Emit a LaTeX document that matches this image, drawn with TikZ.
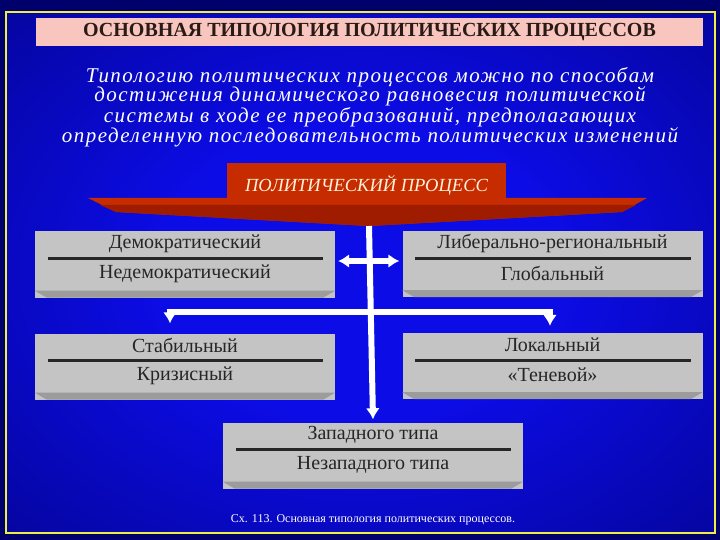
\documentclass[tikz,border=0pt]{standalone}
\usepackage{fontspec}
\setmainfont{Liberation Serif}
\usetikzlibrary{arrows.meta,calc,positioning}

\definecolor{navy}{HTML}{00006C}
\definecolor{midblue}{HTML}{0C0CE6}
\definecolor{frameyellow}{HTML}{EEEE44}
\definecolor{titlepink}{HTML}{F8C6BE}
\definecolor{titleink}{HTML}{2A1A16}
\definecolor{bannerred}{HTML}{C62C00}
\definecolor{bannerdark}{HTML}{A01C00}
\definecolor{boxgray}{HTML}{C4C4C4}
\definecolor{bevelgray}{HTML}{9C9C9C}
\definecolor{inkgray}{HTML}{262626}
\definecolor{cream}{HTML}{FFF2D8}

\pgfdeclareradialshading{slideshade}{\pgfpoint{0bp}{0bp}}%
  {color(0bp)=(midblue); color(14bp)=(midblue); color(52bp)=(navy); color(100bp)=(navy)}

\begin{document}
\begin{tikzpicture}
	[x=1pt,y=-1pt,
	 titlebar/.style={fill=titlepink,minimum width=667pt,minimum height=28pt,inner sep=0pt,
	   text=titleink,font=\fontsize{20}{22}\selectfont\bfseries},
	 intro/.style={text=white,align=center,inner sep=0pt,
	   font=\fontsize{21}{19.5}\selectfont\itshape\addfontfeature{LetterSpace=7}},
	 banner/.style={fill=bannerred,minimum width=279pt,minimum height=36pt,inner sep=0pt},
	 bannertext/.style={text=cream,inner sep=0pt,font=\fontsize{18.5}{20}\selectfont\itshape},
	 typebox/.style={fill=boxgray,minimum width=300pt,minimum height=66pt,inner sep=0pt},
	 typetext/.style={text=inkgray,inner sep=0pt,font=\fontsize{20}{22}\selectfont},
	 divider/.style={draw=inkgray,line width=3pt},
	 wline/.style={draw=white,line width=6pt,>={Latex[width=14pt,length=11pt]}},
	 caption/.style={text=white,inner sep=0pt,font=\fontsize{12}{13}\selectfont}]
	\useasboundingbox (0,0) rectangle (720,540);
	% slide background and frame
	\fill[navy] (0,0) rectangle (720,540);
	\shade[shading=slideshade] (6,12) rectangle (715,533);
	\draw[frameyellow,line width=2pt] (6,12) rectangle (715,533);

	% heading and intro text
	\node[titlebar] (title) at (369.5,32) {ОСНОВНАЯ ТИПОЛОГИЯ ПОЛИТИЧЕСКИХ ПРОЦЕССОВ};
	\node[intro] (intro) at (370,107) {Типологию политических процессов можно по способам\\
		достижения динамического равновесия политической\\
		системы в ходе ее преобразований, предполагающих\\
		определенную последовательность политических изменений};

	% red banner
	\fill[bannerred] (88,198) -- (647,198) -- (622,212) -- (369,226) -- (116,212) -- cycle;
	\fill[bannerdark] (100,205) -- (636,205) -- (622,212) -- (369,226) -- (116,212) -- cycle;
	\node[banner] (proc) at (366.5,181.5) {};
	\node[bannertext] (proctext) at ([yshift=-4pt]proc.center) {ПОЛИТИЧЕСКИЙ ПРОЦЕСС};
	\coordinate (tip) at (369,226);

	% type boxes
	\node[typebox] (dem) at (185,264.5) {};
	\node[typebox] (lib) at (552.5,264) {};
	\node[typebox] (stab) at (185,366.5) {};
	\node[typebox] (loc) at (552.5,366) {};
	\node[typebox] (west) at (373,455.5) {};
	\foreach \b in {dem,lib,stab,loc,west} {
		\fill[bevelgray] ([yshift=7pt]\b.south west) -- ([yshift=7pt]\b.south east)
			-- ([xshift=-12pt]\b.south east) -- ([xshift=12pt]\b.south west) -- cycle;
		\draw[divider] ([xshift=13pt,yshift=6pt]\b.west) -- ([xshift=-12pt,yshift=6pt]\b.east);
	}
	\node[typetext] (demA) at ([yshift=21pt]dem.center) {Демократический};
	\node[typetext] (demB) at ([yshift=-9pt]dem.center) {Недемократический};
	\node[typetext] (libA) at ([yshift=21pt]lib.center) {Либерально-региональный};
	\node[typetext] (libB) at ([yshift=-9pt]lib.center) {Глобальный};
	\node[typetext] (stabA) at ([yshift=21pt]stab.center) {Стабильный};
	\node[typetext] (stabB) at ([yshift=-9pt]stab.center) {Кризисный};
	\node[typetext] (locA) at ([yshift=21pt]loc.center) {Локальный};
	\node[typetext] (locB) at ([yshift=-9pt]loc.center) {«Теневой»};
	\node[typetext] (westA) at ([yshift=21pt]west.center) {Западного типа};
	\node[typetext] (westB) at ([yshift=-9pt]west.center) {Незападного типа};

	% white connectors
	\coordinate (hub) at (369,261);
	\coordinate (barL) at (170,312);
	\coordinate (barR) at (550,312);
	\draw[wline,->] (tip) -- ([yshift=3pt]west.north);
	\draw[wline,<->] ([xshift=3pt]hub -| dem.east) -- ([xshift=-3pt]hub -| lib.west);
	\draw[wline,<->] ([yshift=10pt]barL |- stab.north) -- (barL) -- (barR) -- ([yshift=7pt]barR |- loc.north);

	\node[caption] (cap) at (373,520) {Сх. 113. Основная типология политических процессов.};
\end{tikzpicture}
\end{document}
